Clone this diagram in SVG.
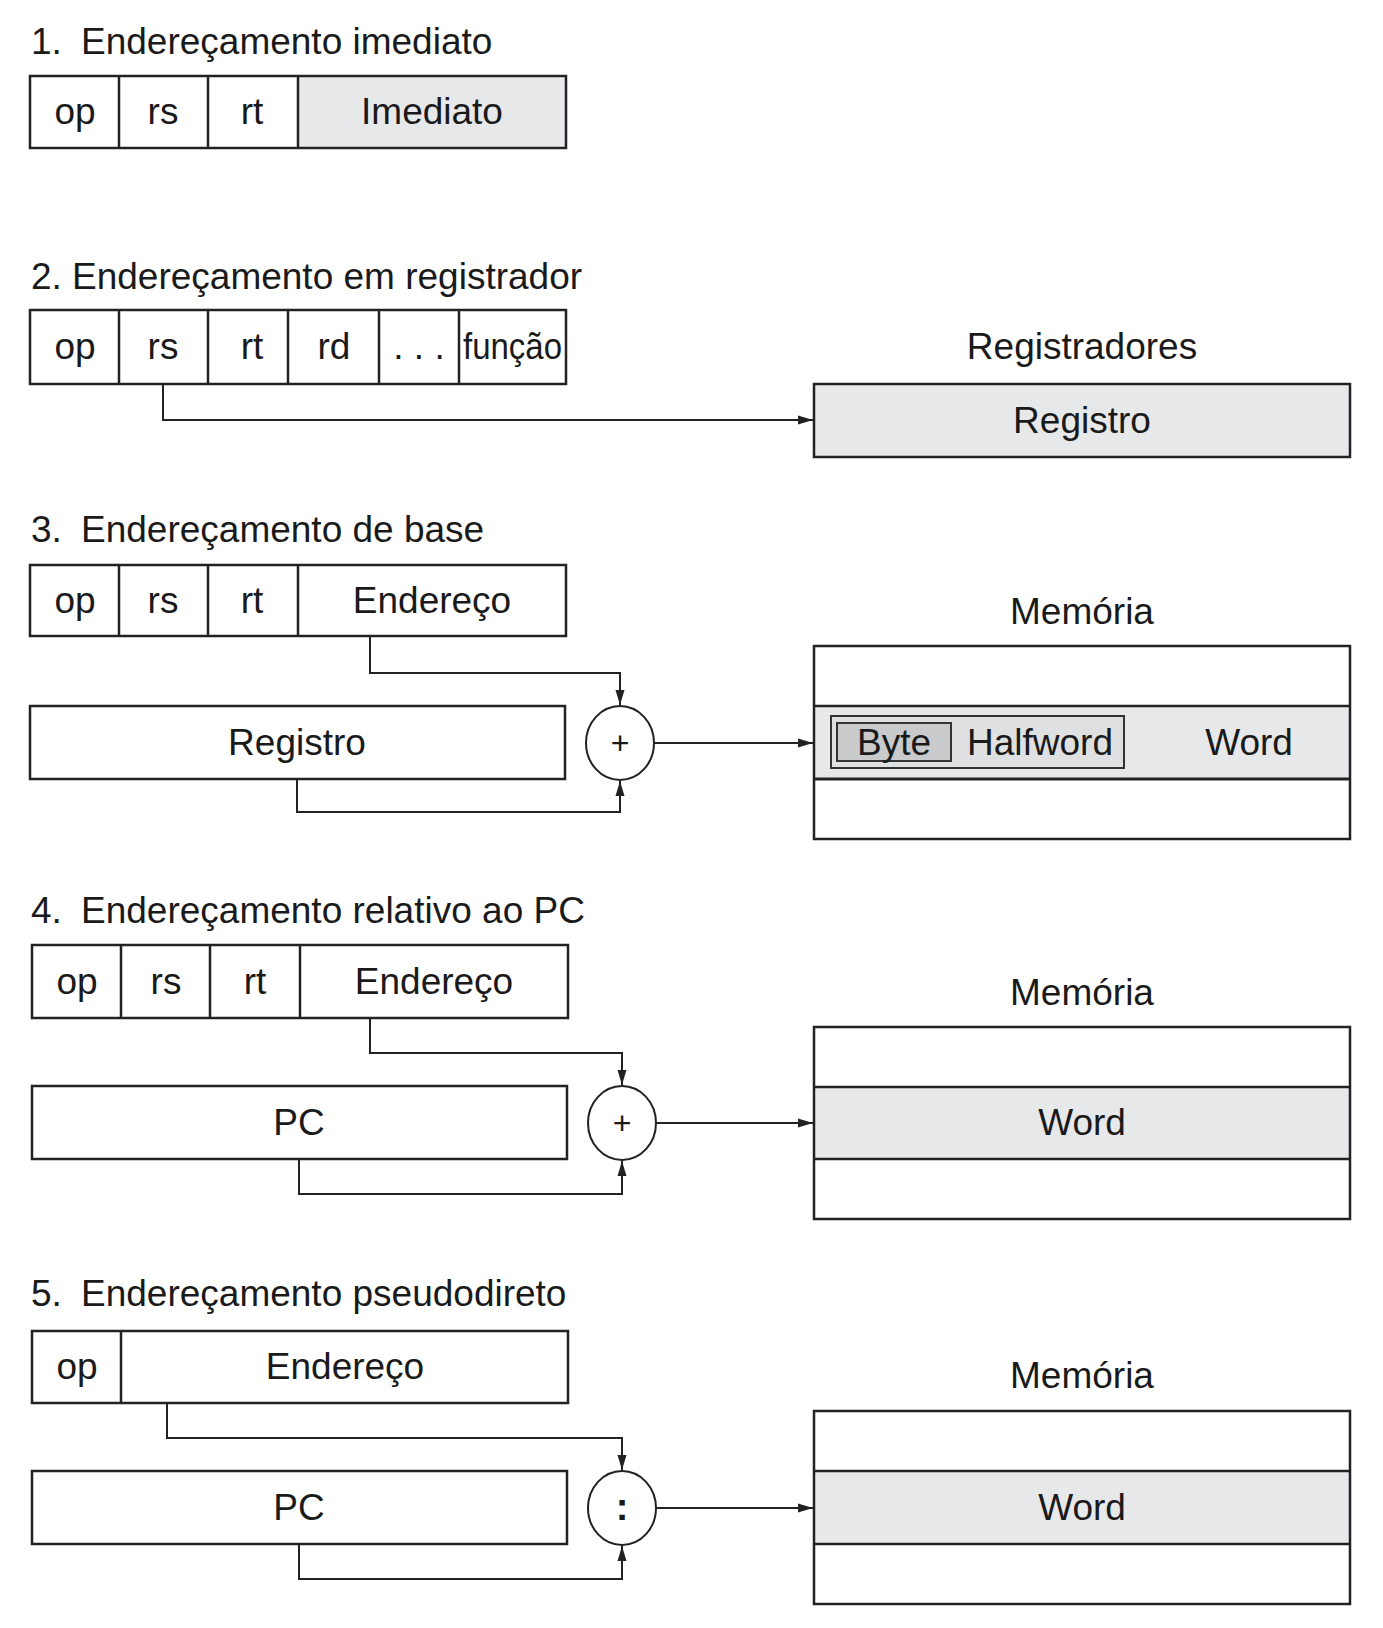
<svg xmlns="http://www.w3.org/2000/svg" width="1383" height="1628" viewBox="0 0 1383 1628">
<style>
text{font-family:"Liberation Sans",Arial,Helvetica,sans-serif;font-size:37px;fill:#1a1a1a}
.c{text-anchor:middle}
.box{fill:#fff;stroke:#222;stroke-width:2.5}
.g{fill:#e7e8ea}
.ln{stroke:#222;stroke-width:2.5;fill:none}
.con{stroke:#222;stroke-width:2;fill:none}
.op{fill:#fff;stroke:#222;stroke-width:2}
</style>
<defs>
<marker id="ah" markerUnits="userSpaceOnUse" markerWidth="16" markerHeight="11" refX="15" refY="5.5" orient="auto">
<path d="M0,1 L15,5.5 L0,10 z" fill="#222"/>
</marker>
</defs>
<rect width="1383" height="1628" fill="#fff"/>

<!-- Section 1 -->
<g id="title1"><text x="31" y="54">1.<tspan x="81">Endereçamento imediato</tspan></text></g>
<g id="instr1">
<rect x="298" y="76" width="268" height="72" class="g"/>
<rect x="30" y="76" width="536" height="72" class="box" style="fill:none"/>
<line x1="119" y1="76" x2="119" y2="148" class="ln"/>
<line x1="208" y1="76" x2="208" y2="148" class="ln"/>
<line x1="298" y1="76" x2="298" y2="148" class="ln"/>
<text x="75" y="124" class="c">op</text>
<text x="163" y="124" class="c">rs</text>
<text x="252" y="124" class="c">rt</text>
<text x="432" y="124" class="c">Imediato</text>
</g>

<!-- Section 2 -->
<g id="title2"><text x="31" y="289">2.<tspan x="72">Endereçamento em registrador</tspan></text></g>
<g id="instr2">
<rect x="30" y="310" width="536" height="74" class="box"/>
<line x1="119" y1="310" x2="119" y2="384" class="ln"/>
<line x1="208" y1="310" x2="208" y2="384" class="ln"/>
<line x1="288" y1="310" x2="288" y2="384" class="ln"/>
<line x1="379" y1="310" x2="379" y2="384" class="ln"/>
<line x1="459" y1="310" x2="459" y2="384" class="ln"/>
<text x="75" y="359" class="c">op</text>
<text x="163" y="359" class="c">rs</text>
<text x="252" y="359" class="c">rt</text>
<text x="334" y="359" class="c">rd</text>
<text x="419" y="359" class="c">. . .</text>
<text x="463" y="359" textLength="99" lengthAdjust="spacingAndGlyphs">função</text>
</g>
<g id="regs2">
<text x="1082" y="359" class="c">Registradores</text>
<rect x="814" y="384" width="536" height="73" class="box" style="fill:#e7e8ea"/>
<text x="1082" y="433" class="c">Registro</text>
</g>

<!-- Section 3 -->
<g id="title3"><text x="31" y="542">3.<tspan x="81">Endereçamento de base</tspan></text></g>
<g id="instr3">
<rect x="30" y="565" width="536" height="71" class="box"/>
<line x1="119" y1="565" x2="119" y2="636" class="ln"/>
<line x1="208" y1="565" x2="208" y2="636" class="ln"/>
<line x1="298" y1="565" x2="298" y2="636" class="ln"/>
<text x="75" y="613" class="c">op</text>
<text x="163" y="613" class="c">rs</text>
<text x="252" y="613" class="c">rt</text>
<text x="432" y="613" class="c">Endereço</text>
</g>
<g id="reg3">
<rect x="30" y="706" width="535" height="73" class="box"/>
<text x="297" y="755" class="c">Registro</text>
</g>
<g id="add3">
<ellipse cx="620" cy="743" rx="34" ry="37" class="op"/>
<text x="620" y="754" class="c" style="font-size:32px">+</text>
</g>
<g id="mem3">
<text x="1082" y="624" class="c">Memória</text>
<rect x="814" y="706" width="536" height="73" class="g"/>
<rect x="814" y="646" width="536" height="193" class="box" style="fill:none"/>
<line x1="814" y1="706" x2="1350" y2="706" class="ln"/>
<line x1="814" y1="779" x2="1350" y2="779" class="ln" style="stroke-width:3"/>
<rect x="831" y="716" width="293" height="52" fill="#dfe0e2" stroke="#333" stroke-width="2"/>
<rect x="837" y="723" width="114" height="38" fill="#c9cacc" stroke="#333" stroke-width="2"/>
<text x="894" y="755" class="c">Byte</text>
<text x="1040" y="755" class="c">Halfword</text>
<text x="1249" y="755" class="c">Word</text>
</g>

<!-- Section 4 -->
<g id="title4"><text x="31" y="923">4.<tspan x="81">Endereçamento relativo ao PC</tspan></text></g>
<g id="instr4">
<rect x="32" y="945" width="536" height="73" class="box"/>
<line x1="121" y1="945" x2="121" y2="1018" class="ln"/>
<line x1="210" y1="945" x2="210" y2="1018" class="ln"/>
<line x1="300" y1="945" x2="300" y2="1018" class="ln"/>
<text x="77" y="994" class="c">op</text>
<text x="166" y="994" class="c">rs</text>
<text x="255" y="994" class="c">rt</text>
<text x="434" y="994" class="c">Endereço</text>
</g>
<g id="pc4">
<rect x="32" y="1086" width="535" height="73" class="box"/>
<text x="299" y="1135" class="c">PC</text>
</g>
<g id="add4">
<ellipse cx="622" cy="1123" rx="34" ry="37" class="op"/>
<text x="622" y="1134" class="c" style="font-size:32px">+</text>
</g>
<g id="mem4">
<text x="1082" y="1005" class="c">Memória</text>
<rect x="814" y="1087" width="536" height="72" class="g"/>
<rect x="814" y="1027" width="536" height="192" class="box" style="fill:none"/>
<line x1="814" y1="1087" x2="1350" y2="1087" class="ln"/>
<line x1="814" y1="1159" x2="1350" y2="1159" class="ln"/>
<text x="1082" y="1135" class="c">Word</text>
</g>

<!-- Section 5 -->
<g id="title5"><text x="31" y="1306">5.<tspan x="81">Endereçamento pseudodireto</tspan></text></g>
<g id="instr5">
<rect x="32" y="1331" width="536" height="72" class="box"/>
<line x1="121" y1="1331" x2="121" y2="1403" class="ln"/>
<text x="77" y="1379" class="c">op</text>
<text x="345" y="1379" class="c">Endereço</text>
</g>
<g id="pc5">
<rect x="32" y="1471" width="535" height="73" class="box"/>
<text x="299" y="1520" class="c">PC</text>
</g>
<g id="cat5">
<ellipse cx="622" cy="1508" rx="34" ry="37" class="op"/>
<text x="622" y="1520" class="c" style="font-size:38px;font-weight:bold">:</text>
</g>
<g id="mem5">
<text x="1082" y="1388" class="c">Memória</text>
<rect x="814" y="1471" width="536" height="73" class="g"/>
<rect x="814" y="1411" width="536" height="193" class="box" style="fill:none"/>
<line x1="814" y1="1471" x2="1350" y2="1471" class="ln"/>
<line x1="814" y1="1544" x2="1350" y2="1544" class="ln"/>
<text x="1082" y="1520" class="c">Word</text>
</g>

<g id="connectors">
<path d="M163,384 V420 H813" class="con" marker-end="url(#ah)"/>
<path d="M370,636 V673 H620 V705" class="con" marker-end="url(#ah)"/>
<path d="M297,779 V812 H620 V781" class="con" marker-end="url(#ah)"/>
<path d="M654,743 H813" class="con" marker-end="url(#ah)"/>
<path d="M370,1018 V1053 H622 V1085" class="con" marker-end="url(#ah)"/>
<path d="M299,1159 V1194 H622 V1161" class="con" marker-end="url(#ah)"/>
<path d="M656,1123 H813" class="con" marker-end="url(#ah)"/>
<path d="M167,1403 V1438 H622 V1470" class="con" marker-end="url(#ah)"/>
<path d="M299,1544 V1579 H622 V1546" class="con" marker-end="url(#ah)"/>
<path d="M656,1508 H813" class="con" marker-end="url(#ah)"/>
</g>
</svg>
